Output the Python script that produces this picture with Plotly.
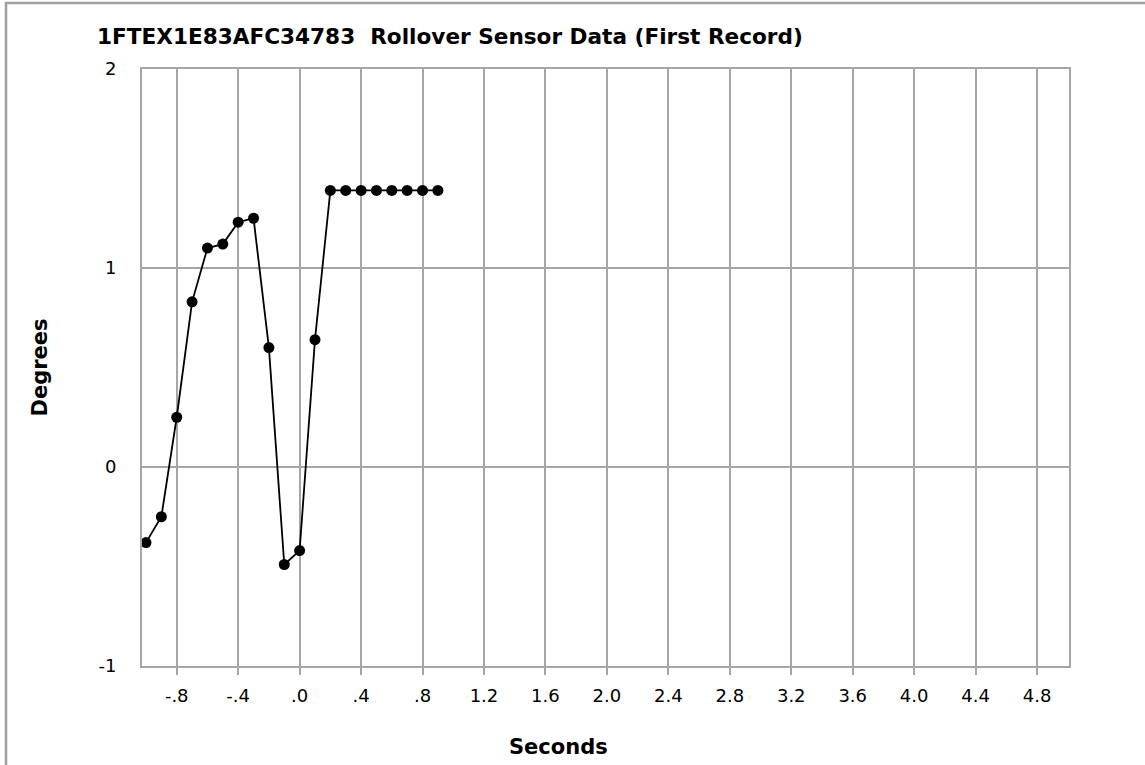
import plotly.graph_objects as go

# Rollover sensor record: time (s) and roll angle (degrees)
seconds = [-1.0, -0.9, -0.8, -0.7, -0.6, -0.5, -0.4, -0.3, -0.2, -0.1,
           0.0, 0.1, 0.2, 0.3, 0.4, 0.5, 0.6, 0.7, 0.8, 0.9]
degrees = [-0.38, -0.25, 0.25, 0.83, 1.10, 1.12, 1.23, 1.25, 0.60, -0.49,
           -0.42, 0.64, 1.39, 1.39, 1.39, 1.39, 1.39, 1.39, 1.39, 1.39]

x_tick_vals = [-0.8, -0.4, 0.0, 0.4, 0.8, 1.2, 1.6, 2.0, 2.4, 2.8, 3.2, 3.6, 4.0, 4.4, 4.8]
x_tick_text = ["-.8", "-.4", ".0", ".4", ".8", "1.2", "1.6", "2.0", "2.4", "2.8",
               "3.2", "3.6", "4.0", "4.4", "4.8"]
y_tick_vals = [-1, 0, 1, 2]
y_tick_text = ["-1", "0", "1", "2"]

title_text = "1FTEX1E83AFC34783  Rollover Sensor Data (First Record)"
x_title = "Seconds"
y_title = "Degrees"

W, H = 1145, 765
ML, MR, MT, MB = 142, 76, 69, 99
PW, PH = W - ML - MR, H - MT - MB

GRID = "#a6a6a6"
FONT = "DejaVu Sans, Verdana, sans-serif"

fig = go.Figure()
fig.add_trace(go.Scatter(
    x=seconds, y=degrees, mode="lines+markers",
    line=dict(color="black", width=1.8),
    marker=dict(color="black", size=11, symbol="circle"),
    showlegend=False, cliponaxis=False,
))

# outer chart frame (extends past the right and bottom edges of the page)
fig.add_shape(type="rect", xref="paper", yref="paper",
              x0=(6 - ML) / PW, x1=(W + 10 - ML) / PW,
              y0=(H - MB - (H + 10)) / PH, y1=(H - MB - 3) / PH,
              line=dict(color="#a0a0a0", width=2.5), layer="below")

# x-axis title, centred under the whole chart frame
fig.add_annotation(text="<b>" + x_title + "</b>", xref="paper", yref="paper",
                   x=(558 - ML) / PW, y=-(747 - (H - MB)) / PH,
                   xanchor="center", yanchor="middle", showarrow=False,
                   font=dict(size=21, family=FONT, color="black"))

fig.update_layout(
    width=W, height=H,
    margin=dict(l=ML, r=MR, t=MT, b=MB),
    paper_bgcolor="white", plot_bgcolor="white",
    font=dict(family=FONT, color="black", size=18),
    title=dict(text="<b>" + title_text + "</b>", x=97 / W, xanchor="left",
               y=1 - 36 / H, yanchor="middle", font=dict(size=21.6, family=FONT)),
)
fig.update_xaxes(
    range=[-1.026, 5.008], tickvals=x_tick_vals, ticktext=x_tick_text,
    showgrid=True, gridcolor=GRID, gridwidth=2,
    showline=True, linecolor=GRID, linewidth=2, mirror=True,
    ticks="outside", ticklen=7, tickcolor=GRID, tickwidth=2,
    zeroline=False, tickfont=dict(size=18), ticklabelstandoff=5,
    automargin=False,
)
fig.update_yaxes(
    range=[-1, 2], tickvals=y_tick_vals, ticktext=y_tick_text,
    showgrid=True, gridcolor=GRID, gridwidth=2,
    showline=True, linecolor=GRID, linewidth=2, mirror=True,
    ticks="", zeroline=False, tickfont=dict(size=18), ticklabelstandoff=20,
    automargin=False,
    title=dict(text="<b>" + y_title + "</b>", font=dict(size=21), standoff=45),
)

fig.write_html("out.html")
